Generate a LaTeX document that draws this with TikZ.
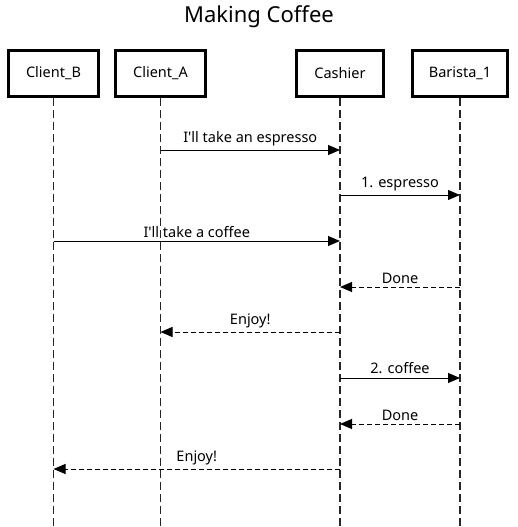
\documentclass[tikz,border=0pt]{standalone}
\usepackage{fontspec}
\setmainfont{Noto Sans}
\usetikzlibrary{arrows.meta}

\begin{document}
\begin{tikzpicture}[x=1pt,y=-1pt,
  actor/.style={draw,line width=2.6pt,minimum height=46pt,inner sep=0pt,font=\fontsize{14.5}{17}\selectfont},
  lifeline/.style={line width=1.5pt,dash pattern=on 8pt off 4pt,black!85},
  call/.style={line width=1pt,-{Triangle[length=12pt,width=10pt]}},
  reply/.style={call,dash pattern=on 5pt off 3pt},
  msg/.style={above=0pt,font=\fontsize{14.5}{17}\selectfont}]
\useasboundingbox (0,0) rectangle (518,527);
\node[font=\fontsize{22}{26}\selectfont] (title) at (259,17) {Making Coffee};
% actors
\node[actor,minimum width=90pt] (cb) at (53.5,73.5) {Client\_B};
\node[actor,minimum width=90pt] (ca) at (160.5,73.5) {Client\_A};
\node[actor,minimum width=87pt] (cs) at (340,73.5) {Cashier};
\node[actor,minimum width=95pt] (ba) at (460,73.5) {Barista\_1};
% lifelines
\coordinate (bottom) at (0,527);
\foreach \a in {cb,ca,cs,ba}
  \draw[lifeline] (\a.south) -- (\a.south |- bottom);
% message rows
\foreach \r/\y in {1/150,2/195,3/241,4/287,5/332,6/378,7/424,8/469}
  \coordinate (r\r) at (0,\y);
\draw[call] (ca |- r1) -- node[msg] {I\textquotesingle ll take an espresso} (cs |- r1);
\draw[call] (cs |- r2) -- node[msg] {1. espresso} (ba |- r2);
\draw[call] (cb |- r3) -- node[msg] {I\textquotesingle ll take a coffee} (cs |- r3);
\draw[reply] (ba |- r4) -- node[msg] {Done} (cs |- r4);
\draw[reply] (cs |- r5) -- node[msg] {Enjoy!} (ca |- r5);
\draw[call] (cs |- r6) -- node[msg] {2. coffee} (ba |- r6);
\draw[reply] (ba |- r7) -- node[msg] {Done} (cs |- r7);
\draw[reply] (cs |- r8) -- node[msg] {Enjoy!} (cb |- r8);
\end{tikzpicture}
\end{document}
